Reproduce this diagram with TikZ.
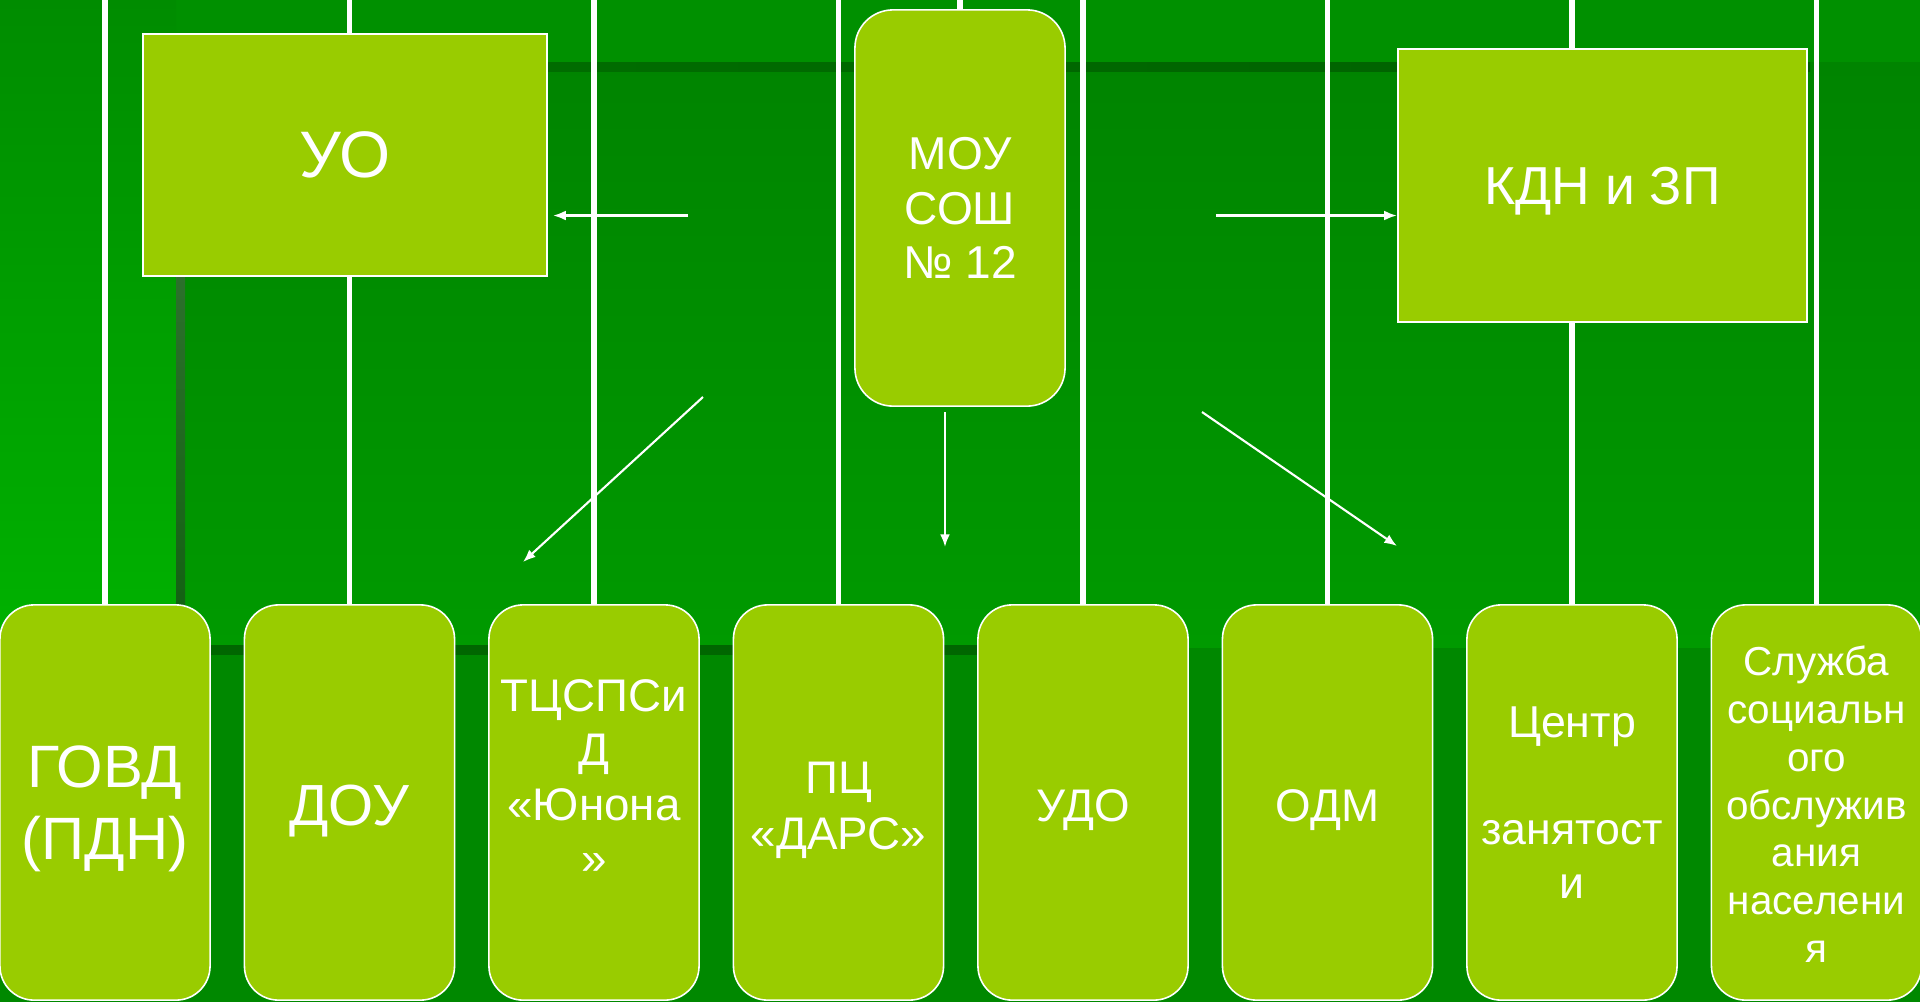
\documentclass[tikz,border=0pt]{standalone}
\usepackage{fontspec}
\setmainfont{Liberation Sans}
\usetikzlibrary{arrows.meta}
\definecolor{boxgreen}{HTML}{99CC00}
\definecolor{bgbase}{HTML}{009000}
\definecolor{leftTop}{HTML}{008C00}
\definecolor{leftBot}{HTML}{00B200}
\definecolor{innerTop}{HTML}{008400}
\definecolor{innerBot}{HTML}{009A00}
\definecolor{bandLow}{HTML}{008800}
\definecolor{shadowA}{HTML}{007000}
\definecolor{shadowB}{HTML}{006000}
\definecolor{shadowL1}{HTML}{3C7A3C}
\definecolor{shadowL2}{HTML}{106010}
\definecolor{shadowBot}{HTML}{006600}
\pgfdeclarelayer{bg}
\pgfdeclarelayer{lines}
\pgfsetlayers{bg,lines,main}
\tikzset{
  lowbox/.style={draw=white, line width=0.45pt, fill=boxgreen, rounded corners=0.34cm,
    minimum width=2.1cm, minimum height=3.95cm, inner sep=0pt},
  topbox/.style={draw=white, line width=0.6pt, fill=boxgreen, inner sep=0pt,
    text=white, align=center},
  boxtext/.style={inner sep=0pt, text=white, align=center},
  vline/.style={white, line width=1.55pt},
  arr/.style={white, line width=0.6pt, -{Latex[length=3.6pt,width=2.8pt]}}
}
\begin{document}
\begin{tikzpicture}[x=0.01cm,y=-0.01cm]
\useasboundingbox (0,0) rectangle (1920,1002);
% ---------- background ----------
\begin{pgfonlayer}{bg}
\fill[bgbase] (0,0) rectangle (1920,1002);
\shade[top color=leftTop, bottom color=leftBot] (0,0) rectangle (176,648);
\shade[top color=innerTop, bottom color=innerBot] (176,62) rectangle (1920,648);
\fill[bandLow] (0,648) rectangle (1920,1002);
\shade[left color=shadowA, right color=shadowB] (176,62) rectangle (1810,71);
\shade[top color=shadowL1, bottom color=shadowL2] (176,62) rectangle (185,648);
\fill[shadowBot] (176,645) rectangle (1000,655);
\shade[left color=shadowBot, right color=bandLow] (1000,645) rectangle (1100,655);
\end{pgfonlayer}
% ---------- top nodes ----------
\node[topbox, minimum width=4.04cm, minimum height=2.42cm,
      font=\fontsize{18.7}{22}\selectfont] (uo) at (345,155) {УО};
\node[topbox, minimum width=4.09cm, minimum height=2.73cm] (kdn) at (1602.5,185.5) {};
\node[boxtext, font=\fontsize{15.2}{18}\selectfont] (tkdn) at ([yshift=-1.7pt]kdn.center) {КДН и ЗП};
\node[topbox, rounded corners=0.38cm, line width=0.45pt, minimum width=2.1cm, minimum height=3.96cm,
      font=\fontsize{13.1}{15.6}\selectfont] (mou) at (960,208) {МОУ\\СОШ\\№ 12};
% ---------- bottom nodes ----------
\node[lowbox] (b1) at (105,802.5) {};
\node[lowbox] (b2) at (349.5,802.5) {};
\node[lowbox] (b3) at (594,802.5) {};
\node[lowbox] (b4) at (838.5,802.5) {};
\node[lowbox] (b5) at (1083,802.5) {};
\node[lowbox] (b6) at (1327.5,802.5) {};
\node[lowbox] (b7) at (1572,802.5) {};
\node[lowbox] (b8) at (1816.5,802.5) {};
\node[boxtext, font=\fontsize{17}{20.5}\selectfont] (t1) at ([yshift=-1.9pt]b1.center) {ГОВД\\(ПДН)};
\node[boxtext, font=\fontsize{16.5}{20}\selectfont] (t2) at ([yshift=-2.4pt]b2.center) {ДОУ};
\node[boxtext, font=\fontsize{13}{15.5}\selectfont] (t3) at ([yshift=7.3pt]b3.center) {ТЦСПСи\\Д\\«Юнона\\»};
\node[boxtext, font=\fontsize{13}{15.9}\selectfont] (t4) at ([yshift=-2.1pt]b4.center) {ПЦ\\«ДАРС»};
\node[boxtext, font=\fontsize{13}{15.6}\selectfont] (t5) at ([yshift=-2.1pt]b5.center) {УДО};
\node[boxtext, font=\fontsize{13}{15.6}\selectfont] (t6) at ([yshift=-2.1pt]b6.center) {ОДМ};
\node[boxtext, font=\fontsize{12.7}{15.3}\selectfont] (t7) at (b7.center) {Центр\\\strut\\занятост\\и};
\node[boxtext, font=\fontsize{11.5}{13.6}\selectfont] (t8) at ([yshift=-0.5pt]b8.center)
  {Служба\\социальн\\ого\\обслужив\\ания\\населени\\я};
% ---------- vertical white lines ----------
\coordinate (top) at (0,0);
\begin{pgfonlayer}{lines}
\foreach \i in {1,...,8} \draw[vline] (b\i.north) -- (b\i.north |- top);
\draw[vline] (mou.north) -- (mou.north |- top);
\end{pgfonlayer}
% ---------- arrows ----------
\coordinate (a1s) at (688,215.5);
\coordinate (a2s) at (1216,215.5);
\coordinate (a3s) at (703,397);
\coordinate (a3e) at (523,562);
\coordinate (a4s) at (945,412);
\coordinate (a4e) at (945,547);
\coordinate (a5s) at (1202,412);
\coordinate (a5e) at (1397,546);
\draw[arr, shorten >=1.4pt] (a1s) -- (a1s -| uo.east);
\draw[arr] (a2s) -- (a2s -| kdn.west);
\draw[arr] (a3s) -- (a3e);
\draw[arr] (a4s) -- (a4e);
\draw[arr] (a5s) -- (a5e);
\end{tikzpicture}
\end{document}
